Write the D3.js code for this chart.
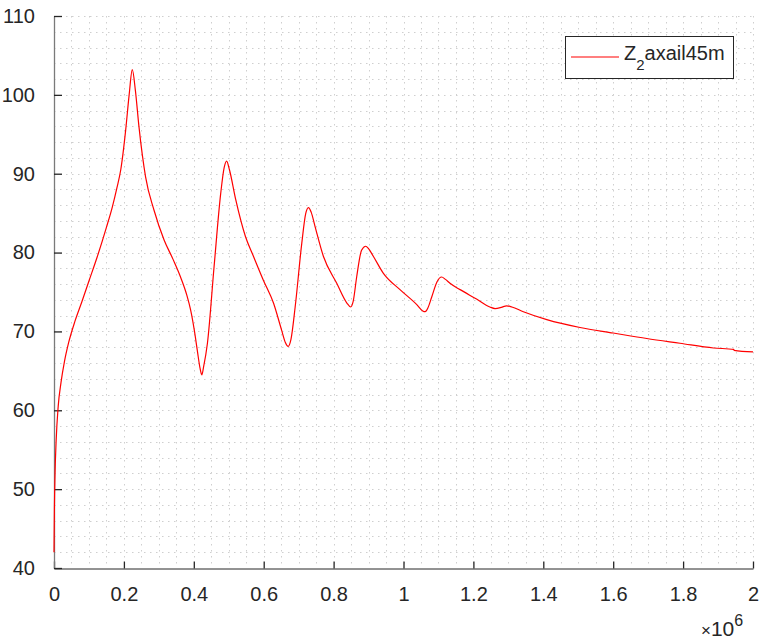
<!DOCTYPE html>
<html>
<head>
<meta charset="utf-8">
<script src="https://cdn.jsdelivr.net/npm/d3@7/dist/d3.min.js"></script>
<style>
	body { margin: 0; background: #fff; }
	svg text { font-family: "Liberation Sans", Arial, Helvetica, sans-serif; fill: #262626; }
</style>
</head>
<body>
<svg id="chart" width="759" height="644"></svg>
<script>
// frequency (Hz) and response
var freq = [0, 1e3, 3e3, 6e3, 12e3, 20e3, 30e3, 42e3, 60e3, 80e3, 100e3, 124e3, 150e3, 167e3, 180e3, 191e3,
	205e3, 215e3, 224e3, 233e3, 243e3, 262e3, 286e3, 315e3, 340e3, 362e3, 380e3, 391e3, 402e3, 410e3,
	418e3, 423e3, 428e3, 439e3, 458e3, 477e3, 487e3, 494e3, 502e3, 520e3, 548e3, 570e3, 599e3, 628e3,
	651e3, 662e3, 670e3, 678e3, 690e3, 709e3, 720e3, 728e3, 736e3, 747e3, 771e3, 809e3, 838e3, 849e3,
	856e3, 866e3, 880e3, 892e3, 900e3, 914e3, 942e3, 990e3, 1038e3, 1055e3, 1062e3, 1070e3, 1081e3,
	1096e3, 1109e3, 1120e3, 1133e3, 1162e3, 1209e3, 1247e3, 1262e3, 1280e3, 1295e3, 1310e3, 1343e3,
	1410e3, 1505e3, 1600e3, 1696e3, 1791e3, 1887e3, 1945e3, 1946e3, 2000e3];
var zAxial = [42, 47, 52, 56, 60.5, 63.5, 66.2, 68.6, 71.3, 73.8, 76.4, 79.5, 83.2, 85.8, 88.2, 90.5,
	95.5, 100, 103.2, 100.5, 96, 89.6, 85.4, 81.6, 79.2, 76.9, 74.6, 72.7, 70, 67.6,
	65.3, 64.5, 65.5, 68.5, 78.2, 87.5, 90.8, 91.6, 90.5, 86.7, 82, 79.6, 76.5, 73.6,
	70.2, 68.6, 68.1, 69, 73.1, 81.2, 84.9, 85.7, 85.1, 83.3, 79.5, 76.1, 73.6, 73.1,
	73.8, 76.9, 80.3, 80.8, 80.5, 79.5, 77.4, 75.3, 73.4, 72.6, 72.5, 73, 74.4,
	76.3, 76.9, 76.6, 76.1, 75.3, 74.1, 73.1, 72.9, 73.05, 73.25, 73.1, 72.5,
	71.5, 70.5, 69.8, 69.1, 68.5, 67.9, 67.72, 67.6, 67.4];

var xTicks = [0, 2e5, 4e5, 6e5, 8e5, 1e6, 1.2e6, 1.4e6, 1.6e6, 1.8e6, 2e6];
var xTickLabels = ["0", "0.2", "0.4", "0.6", "0.8", "1", "1.2", "1.4", "1.6", "1.8", "2"];
var yTicks = [40, 50, 60, 70, 80, 90, 100, 110];
var yTickLabels = ["40", "50", "60", "70", "80", "90", "100", "110"];
var seriesName = ["Z", "2", "axail45m"];

function drawChart() {
	var svg = d3.select("#chart");
	var left = 54, right = 753, top = 16, bottom = 568;
	var axisColor = "#262626";
	var fontSize = 20;

	var x = d3.scaleLinear().domain([0, 2e6]).range([left, right]);
	var y = d3.scaleLinear().domain([40, 110]).range([bottom, top]);

	// minor + major grid, all dotted
	var grid = svg.append("g").attr("stroke", "#cfcfcf").attr("stroke-width", 1)
		.attr("stroke-dasharray", "1.5,4.5");
	grid.selectAll("line.v").data(d3.range(1, 41).map(function (i) { return i * 5e4; }))
		.enter().append("line")
		.attr("x1", function (d) { return Math.round(x(d)) + 0.5; })
		.attr("x2", function (d) { return Math.round(x(d)) + 0.5; })
		.attr("y1", top).attr("y2", bottom);
	grid.selectAll("line.h").data(d3.range(1, 36).map(function (i) { return 40 + i * 2; }))
		.enter().append("line")
		.attr("y1", function (d) { return Math.round(y(d)) + 0.5; })
		.attr("y2", function (d) { return Math.round(y(d)) + 0.5; })
		.attr("x1", left).attr("x2", right);

	// axes (box off: left + bottom only, ticks inward)
	var xAxis = d3.axisBottom(x).tickValues(xTicks)
		.tickFormat(function (d, i) { return xTickLabels[i]; })
		.tickSizeInner(-7).tickSizeOuter(0).tickPadding(18);
	var gx = svg.append("g").attr("transform", "translate(0," + (bottom + 0.5) + ")").call(xAxis);
	gx.select(".domain").attr("stroke", axisColor);
	gx.selectAll(".tick line").attr("stroke", axisColor).attr("stroke-width", 1.3);
	gx.selectAll(".tick text").attr("font-size", fontSize).attr("fill", axisColor)
		.attr("font-family", "Liberation Sans, Arial, sans-serif");

	var yAxis = d3.axisLeft(y).tickValues(yTicks)
		.tickFormat(function (d, i) { return yTickLabels[i]; })
		.tickSizeInner(-8).tickSizeOuter(0).tickPadding(19);
	var gy = svg.append("g").attr("transform", "translate(" + left + ",0)").call(yAxis);
	gy.select(".domain").attr("stroke", "#7a7a7a").attr("stroke-width", 1.3);
	gy.selectAll(".tick line").attr("stroke", axisColor).attr("stroke-width", 1.3);
	gy.selectAll(".tick text").attr("font-size", fontSize).attr("fill", axisColor)
		.attr("font-family", "Liberation Sans, Arial, sans-serif");

	// curve, drawn over the axis line like the original
	svg.append("clipPath").attr("id", "plot-clip").append("rect")
		.attr("x", left - 1).attr("y", top).attr("width", right - left + 1).attr("height", bottom - top);

	var line = d3.line()
		.x(function (d, i) { return x(freq[i]); })
		.y(function (d) { return y(d); })
		.curve(d3.curveMonotoneX);

	svg.append("path")
		.attr("d", line(zAxial))
		.attr("clip-path", "url(#plot-clip)")
		.attr("fill", "none")
		.attr("stroke", "#ff0000")
		.attr("stroke-width", 1.2);

	// x10^6 exponent label
	var expo = svg.append("text").attr("x", 701).attr("y", 636).attr("font-size", 21);
	expo.append("tspan").attr("font-size", 17).text("\u00d7");
	expo.append("tspan").text("10");
	expo.append("tspan").attr("dy", -10).attr("font-size", 16).text("6");

	// legend
	var lg = svg.append("g");
	lg.append("rect").attr("x", 565.5).attr("y", 36.5).attr("width", 168).attr("height", 42)
		.attr("fill", "#fff").attr("stroke", axisColor).attr("stroke-width", 1);
	lg.append("line").attr("x1", 571).attr("x2", 619).attr("y1", 57).attr("y2", 57)
		.attr("stroke", "#ff0000").attr("stroke-width", 1.2);
	var lt = lg.append("text").attr("x", 624).attr("y", 60).attr("font-size", fontSize);
	lt.append("tspan").text(seriesName[0]);
	lt.append("tspan").attr("dy", 10).attr("font-size", 15).text(seriesName[1]);
	lt.append("tspan").attr("dy", -10).text(seriesName[2]);
}

drawChart();
</script>
</body>
</html>
